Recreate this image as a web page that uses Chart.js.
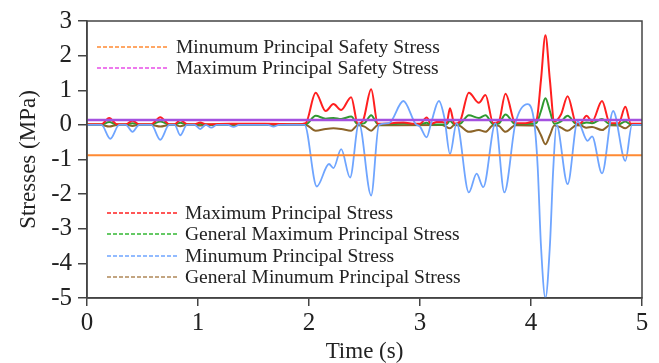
<!DOCTYPE html>
<html><head><meta charset="utf-8">
<script src="https://cdn.jsdelivr.net/npm/chart.js@4.4.1/dist/chart.umd.min.js"></script>
<style>
html,body{margin:0;padding:0;background:#fff;}
#wrap{position:relative;width:659px;height:363px;overflow:hidden;}
#c{position:absolute;left:0;top:0;}
.leg{position:absolute;font-family:"Liberation Serif","Times New Roman",serif;font-size:19.5px;color:#222;}
.row{display:flex;align-items:center;white-space:nowrap;}
.row svg{flex:none;}
</style>
</head><body>
<div id="wrap">
<canvas id="c" width="659" height="363"></canvas>
<div class="leg" id="leg1" style="left:97px;top:36px;"></div>
<div class="leg" id="leg2" style="left:107px;top:202px;"></div>
</div>
<script>
// ---- data ----
const timeRange = [0, 5];
const minSafetyStress = [-0.88, -0.88];
const maxSafetyStress = [0.14, 0.14];

const maxPrincipalTime = [0,0.13,0.2,0.27,0.35,0.41,0.47,0.58,0.66,0.74,0.79,0.84,0.9,0.97,1.02,1.07,1.3,1.6,1.9,1.97,2.06,2.15,2.22,2.29,2.38,2.44,2.49,2.56,2.62,2.75,2.85,2.95,3.0,3.06,3.1,3.15,3.2,3.24,3.27,3.31,3.36,3.44,3.53,3.59,3.66,3.71,3.77,3.86,3.95,4.02,4.05,4.09,4.13,4.17,4.21,4.27,4.33,4.41,4.45,4.5,4.55,4.64,4.71,4.79,4.85,4.9,5.0];
const maxPrincipal = [0.02,0.02,0.2,0.02,0.02,0.12,0.02,0.02,0.22,0.02,0.02,0.14,0.02,0.02,0.07,0.02,0.03,0.03,0.02,0.05,0.93,0.4,0.6,0.43,0.8,0.03,0.15,1.03,0.03,0.05,0.07,0.03,0.03,0.21,0.03,0.08,0.08,0.05,0.48,0.03,0.1,0.93,0.64,0.86,0.05,0.1,0.9,0.05,0.05,0.1,0.15,1.3,2.59,1.3,0.1,0.3,0.83,0.03,0.05,0.26,0.1,0.69,0.05,0.05,0.52,0.03,0.03];

const genMaxTime = [0,0.13,0.2,0.27,0.35,0.41,0.47,0.58,0.66,0.74,0.79,0.84,0.9,0.97,1.02,1.07,1.97,2.06,2.15,2.22,2.29,2.38,2.44,2.5,2.56,2.62,2.75,2.85,2.95,3.0,3.06,3.1,3.24,3.27,3.31,3.36,3.44,3.53,3.59,3.66,3.71,3.77,3.86,4.02,4.05,4.09,4.13,4.17,4.21,4.27,4.33,4.41,4.45,4.5,4.55,4.64,4.71,4.79,4.85,4.9,5.0];
const genMax = [0.01,0.01,0.08,0.01,0.01,0.05,0.01,0.01,0.1,0.01,0.01,0.06,0.01,0.01,0.03,0.01,0.02,0.26,0.18,0.2,0.17,0.24,0.02,0.05,0.28,0.02,0.02,0.04,0.02,0.02,0.06,0.01,0.02,0.12,0.01,0.03,0.28,0.2,0.28,0.02,0.04,0.3,0.02,0.03,0.06,0.4,0.77,0.4,0.03,0.1,0.26,0.02,0.03,0.07,0.05,0.17,0.02,0.02,0.1,0.01,0.01];

const minPrincipalTime = [0,0.13,0.21,0.29,0.35,0.41,0.47,0.58,0.66,0.74,0.79,0.84,0.9,0.97,1.02,1.07,1.12,1.17,1.27,1.32,1.37,1.63,1.68,1.73,1.96,2.07,2.18,2.22,2.29,2.37,2.45,2.56,2.63,2.72,2.85,2.96,3.0,3.06,3.1,3.17,3.22,3.27,3.33,3.44,3.51,3.57,3.68,3.76,3.86,3.97,4.03,4.06,4.09,4.13,4.17,4.2,4.23,4.33,4.42,4.51,4.55,4.64,4.74,4.85,4.91,5.0];
const minPrincipal = [0,0,-0.4,0,0,-0.2,0,0,-0.43,0,0,-0.3,0,0,-0.12,0,-0.08,0,0,-0.06,0,0,-0.05,0,0,-1.78,-1.13,-1.25,-0.7,-1.52,0.05,-2.04,0,0.05,0.69,0.03,-0.05,-0.36,0.05,0.69,0.2,-0.84,0.05,-1.95,-1.41,-1.8,0.05,-1.95,0.05,0.6,0.05,-1.2,-3.5,-5,-3.5,-1.3,0,-1.71,0.1,-0.46,-0.33,-1.4,0.4,-1.04,0,0];

const genMinTime = [0,0.13,0.2,0.27,0.35,0.41,0.47,0.58,0.66,0.74,0.79,0.84,0.9,0.97,1.02,1.07,1.97,2.06,2.15,2.22,2.29,2.38,2.44,2.5,2.56,2.62,3.2,3.27,3.31,3.36,3.44,3.53,3.59,3.66,3.71,3.77,3.86,4.02,4.05,4.09,4.13,4.17,4.21,4.27,4.33,4.41,4.45,4.5,4.55,4.64,4.71,4.79,4.85,4.9,5.0];
const genMin = [0,0,-0.05,0,0,-0.03,0,0,-0.05,0,0,-0.04,0,0,-0.02,0,0,-0.17,-0.12,-0.1,-0.12,-0.17,-0.01,-0.05,-0.17,-0.01,0,-0.1,0,-0.03,-0.2,-0.15,-0.2,-0.01,-0.03,-0.2,-0.01,-0.02,-0.06,-0.3,-0.56,-0.3,-0.02,-0.08,-0.17,-0.01,-0.02,-0.08,-0.06,-0.15,-0.01,-0.02,-0.1,0,0];

const xTicks = [0,1,2,3,4,5];
const yTicks = [-5,-4,-3,-2,-1,0,1,2,3];

const legendTop = [
  {label:'Minumum Principal Safety Stress', color:'#ff8a33'},
  {label:'Maximum Principal Safety Stress', color:'#e84ee8'}
];
const legendBottom = [
  {label:'Maximum Principal Stress', color:'#ff2020'},
  {label:'General Maximum Principal Stress', color:'#33b833'},
  {label:'Minumum Principal Stress', color:'#6fa5ff'},
  {label:'General Minumum Principal Stress', color:'#b08858'}
];

// ---- build ----
const pts = (t, v) => t.map((x, i) => ({x, y: v[i]}));
const serif = '"Liberation Serif","Times New Roman",serif';

function line(data, color, w) {
  return {data, borderColor: color, borderWidth: w, pointRadius: 0, fill: false,
          cubicInterpolationMode: 'monotone', tension: 0.4};
}

const datasets = [
  line(pts(timeRange, minSafetyStress), '#ff8a33', 2),
  line(pts(timeRange, maxSafetyStress), '#a450e0', 2.6),
  line(pts(minPrincipalTime, minPrincipal), '#6fa5ff', 1.8),
  line(pts(maxPrincipalTime, maxPrincipal), '#ff1f1f', 2),
  line(pts(genMaxTime, genMax), '#2f9a2f', 2),
  line(pts(genMinTime, genMin), '#8c6428', 2)
];

const frame = {
  id: 'frame',
  afterDatasetsDraw(chart) {
    const {ctx, chartArea: a} = chart;
    ctx.save();
    ctx.strokeStyle = '#444';
    ctx.lineWidth = 1.5;
    ctx.strokeRect(a.left, a.top, a.right - a.left, a.bottom - a.top);
    ctx.restore();
  }
};

new Chart(document.getElementById('c'), {
  type: 'line',
  data: {datasets},
  options: {
    responsive: false,
    animation: false,
    layout: {padding: {left: 0, right: 17, top: 20, bottom: 0}},
    plugins: {legend: {display: false}, tooltip: {enabled: false}},
    scales: {
      x: {
        type: 'linear', min: xTicks[0], max: xTicks[xTicks.length - 1],
        afterBuildTicks(s) { s.ticks = xTicks.map(v => ({value: v})); },
        afterFit(s) { s.height = 65; },
        ticks: {font: {family: serif, size: 25}, color: '#222', padding: 2, maxRotation: 0},
        grid: {drawOnChartArea: false, tickLength: 8, color: '#444', lineWidth: 1.5},
        border: {color: '#444', width: 1.5},
        title: {display: true, text: 'Time (s)', font: {family: serif, size: 23, lineHeight: 1}, color: '#222', padding: {top: 0, bottom: 0}}
      },
      y: {
        type: 'linear', min: yTicks[0], max: yTicks[yTicks.length - 1],
        afterBuildTicks(s) { s.ticks = yTicks.map(v => ({value: v})); },
        afterFit(s) { s.width = 87; },
        ticks: {font: {family: serif, size: 25}, color: '#222', padding: 6},
        grid: {drawOnChartArea: false, tickLength: 9, color: '#444', lineWidth: 1.5},
        border: {color: '#444', width: 1.5},
        title: {display: true, text: 'Stresses (MPa)', font: {family: serif, size: 23, lineHeight: 1}, color: '#222', padding: {top: 17, bottom: 0}}
      }
    }
  },
  plugins: [frame]
});

function buildLegend(el, items, rowH, gap) {
  items.forEach(it => {
    const row = document.createElement('div');
    row.className = 'row';
    row.style.height = rowH + 'px';
    row.innerHTML = '<svg width="72" height="4" style="margin-right:' + gap + 'px"><line x1="0" y1="2" x2="72" y2="2" stroke="' + it.color +
      '" stroke-width="1.6" stroke-dasharray="4 2"/></svg><span></span>';
    row.querySelector('span').textContent = it.label;
    el.appendChild(row);
  });
}
buildLegend(document.getElementById('leg1'), legendTop, 21.5, 7);
buildLegend(document.getElementById('leg2'), legendBottom, 21.5, 6);
</script>
</body></html>
